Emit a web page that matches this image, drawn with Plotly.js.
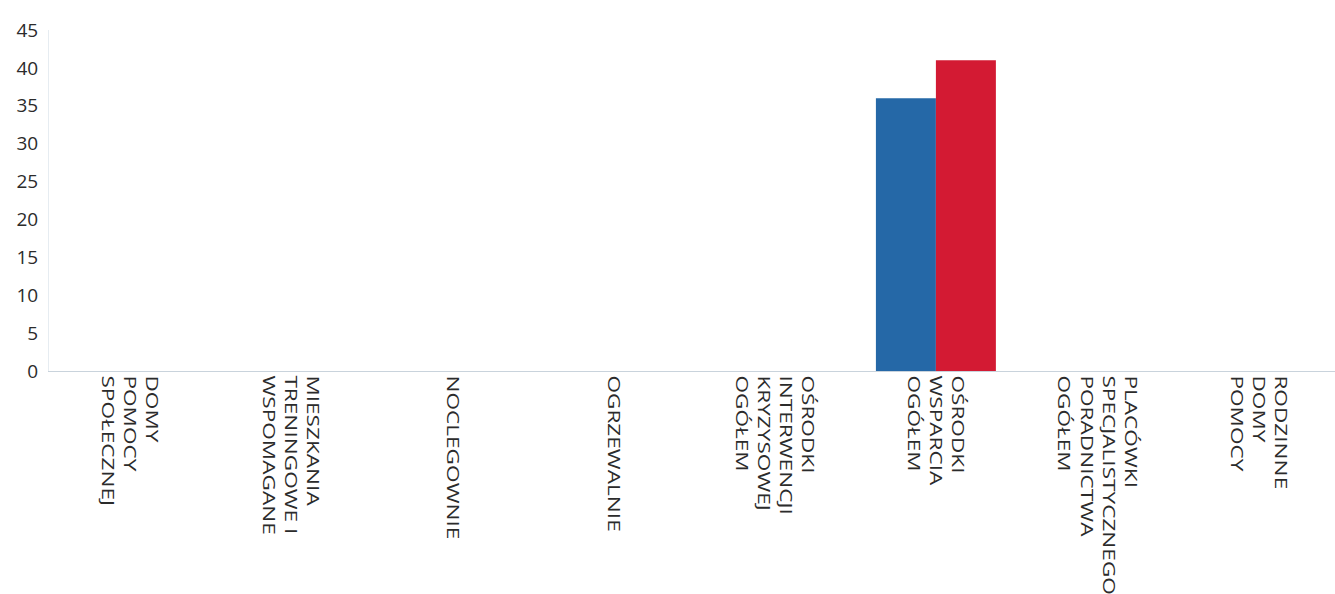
<!DOCTYPE html>
<html>
<head>
<meta charset="utf-8">
<script src="https://cdn.plot.ly/plotly-3.0.1.min.js"></script>
<style>
html,body{margin:0;padding:0;background:#fff}
#chart{width:1335px;height:594px}
</style>
</head>
<body>
<div id="chart"></div>
<script>
const categories = [
  "DOMY<br>POMOCY<br>SPOŁECZNEJ",
  "MIESZKANIA<br>TRENINGOWE I<br>WSPOMAGANE",
  "NOCLEGOWNIE",
  "OGRZEWALNIE",
  "OŚRODKI<br>INTERWENCJI<br>KRYZYSOWEJ<br>OGÓŁEM",
  "OŚRODKI<br>WSPARCIA<br>OGÓŁEM",
  "PLACÓWKI<br>SPECJALISTYCZNEGO<br>PORADNICTWA<br>OGÓŁEM",
  "RODZINNE<br>DOMY<br>POMOCY"
];
const seriesBlue = [0, 0, 0, 0, 0, 36, 0, 0];
const seriesRed  = [0, 0, 0, 0, 0, 41, 0, 0];
const yTicks = [0, 5, 10, 15, 20, 25, 30, 35, 40, 45];

const data = [
  {type: 'bar', x: categories, y: seriesBlue, name: 'Seria 1', marker: {color: '#2568a7'}},
  {type: 'bar', x: categories, y: seriesRed, name: 'Seria 2', marker: {color: '#d31a33'}}
];
const layout = {
  width: 1335, height: 594,
  margin: {l: 49, r: 0, t: 30, b: 223},
  paper_bgcolor: '#fff', plot_bgcolor: '#fff',
  showlegend: false,
  barmode: 'group', bargap: 0.256, bargroupgap: 0,
  font: {family: '"Open Sans", sans-serif', color: '#2b2b2b', size: 17},
  xaxis: {
    range: [-0.5, 7.475],
    tickangle: 90, tickfont: {size: 17}, showgrid: false, zeroline: false,
    showline: true, linecolor: '#c9d3dc', linewidth: 1, ticks: ''
  },
  yaxis: {
    range: [0, 45], tickvals: yTicks, ticktext: yTicks.map(String), showgrid: false,
    zeroline: false, showline: true, linecolor: '#e6ecf1', linewidth: 1,
    tickfont: {size: 19}, ticks: '', ticklabelstandoff: 6
  }
};
Plotly.newPlot('chart', data, layout, {displayModeBar: false, staticPlot: true}).then(function (gd) {
  // stretch the rotated category labels along their reading direction, as in the printed original
  gd.querySelectorAll('.xtick text').forEach(function (t) {
    const ax = parseFloat(t.getAttribute('x')) || 0;
    const ay = parseFloat(t.getAttribute('y')) || 0;
    const tr = t.getAttribute('transform') || '';
    t.setAttribute('transform', tr + ' translate(' + ax + ',' + ay + ') scale(1.33,1) translate(' + (-ax) + ',' + (-ay) + ')');
  });
});
</script>
</body>
</html>
